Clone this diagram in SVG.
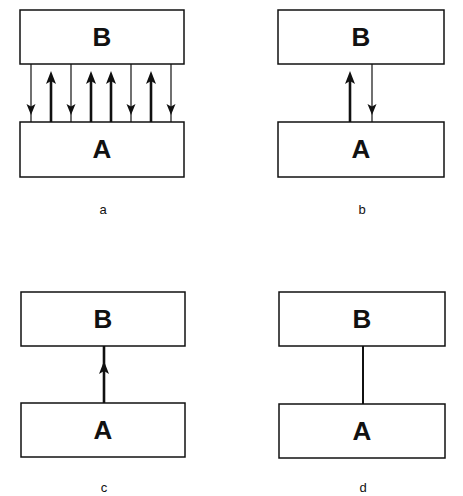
<svg xmlns="http://www.w3.org/2000/svg" width="463" height="496" viewBox="0 0 463 496">
<style>
.box{fill:#fff;stroke:#111;stroke-width:1.5}
.lbl{font-family:"Liberation Sans",Arial,sans-serif;font-weight:bold;font-size:26px;fill:#111;text-anchor:middle}
.cap{font-family:"Liberation Sans",Arial,sans-serif;font-size:13px;fill:#111;text-anchor:middle}
.thin{stroke:#111;stroke-width:1.2;fill:none}
.thick{stroke:#111;stroke-width:2.6;fill:none}
.head{fill:#111;stroke:none}
</style>
<defs>
<path id="up" class="head" d="M0,0 L-5,13 L0,10 L5,13 Z"/>
<path id="dn" class="head" d="M0,0 L-4.5,-11 L0,-8.5 L4.5,-11 Z"/>
</defs>
<rect width="463" height="496" fill="#fff"/>
<g id="connectors">
<!-- panel a -->
<line class="thin" x1="31" y1="64" x2="31" y2="122"/><use href="#dn" x="31" y="115"/>
<line class="thick" x1="51" y1="76" x2="51" y2="122"/><use href="#up" x="51" y="71"/>
<line class="thin" x1="71" y1="64" x2="71" y2="122"/><use href="#dn" x="71" y="115"/>
<line class="thick" x1="91" y1="76" x2="91" y2="122"/><use href="#up" x="91" y="71"/>
<line class="thick" x1="111" y1="76" x2="111" y2="122"/><use href="#up" x="111" y="71"/>
<line class="thin" x1="131" y1="64" x2="131" y2="122"/><use href="#dn" x="131" y="115"/>
<line class="thick" x1="151" y1="76" x2="151" y2="122"/><use href="#up" x="151" y="71"/>
<line class="thin" x1="171" y1="64" x2="171" y2="122"/><use href="#dn" x="171" y="115"/>
<!-- panel b -->
<line class="thick" x1="350" y1="76" x2="350" y2="122"/><use href="#up" x="350" y="71"/>
<line class="thin" x1="372" y1="64" x2="372" y2="122"/><use href="#dn" x="372" y="115"/>
<!-- panel c -->
<line class="thick" x1="104" y1="346" x2="104" y2="403"/><use href="#up" x="104" y="361"/>
<!-- panel d -->
<line class="thick" x1="363" y1="346" x2="363" y2="404" style="stroke-width:2"/>
</g>
<g id="a-B"><rect class="box" x="20" y="10" width="164" height="54"/><text class="lbl" x="102" y="46">B</text></g>
<g id="a-A"><rect class="box" x="20" y="122" width="164" height="55"/><text class="lbl" x="102" y="158">A</text></g>
<g id="b-B"><rect class="box" x="278" y="10" width="166" height="54"/><text class="lbl" x="361" y="46">B</text></g>
<g id="b-A"><rect class="box" x="278" y="122" width="166" height="55"/><text class="lbl" x="361" y="158">A</text></g>
<g id="c-B"><rect class="box" x="21" y="292" width="164" height="54"/><text class="lbl" x="103" y="328">B</text></g>
<g id="c-A"><rect class="box" x="21" y="403" width="164" height="54"/><text class="lbl" x="103" y="439">A</text></g>
<g id="d-B"><rect class="box" x="279" y="292" width="166" height="54"/><text class="lbl" x="362" y="328">B</text></g>
<g id="d-A"><rect class="box" x="279" y="404" width="166" height="54"/><text class="lbl" x="362" y="440">A</text></g>
<text class="cap" x="103" y="214">a</text>
<text class="cap" x="362" y="214">b</text>
<text class="cap" x="104" y="492">c</text>
<text class="cap" x="363" y="492">d</text>
</svg>
